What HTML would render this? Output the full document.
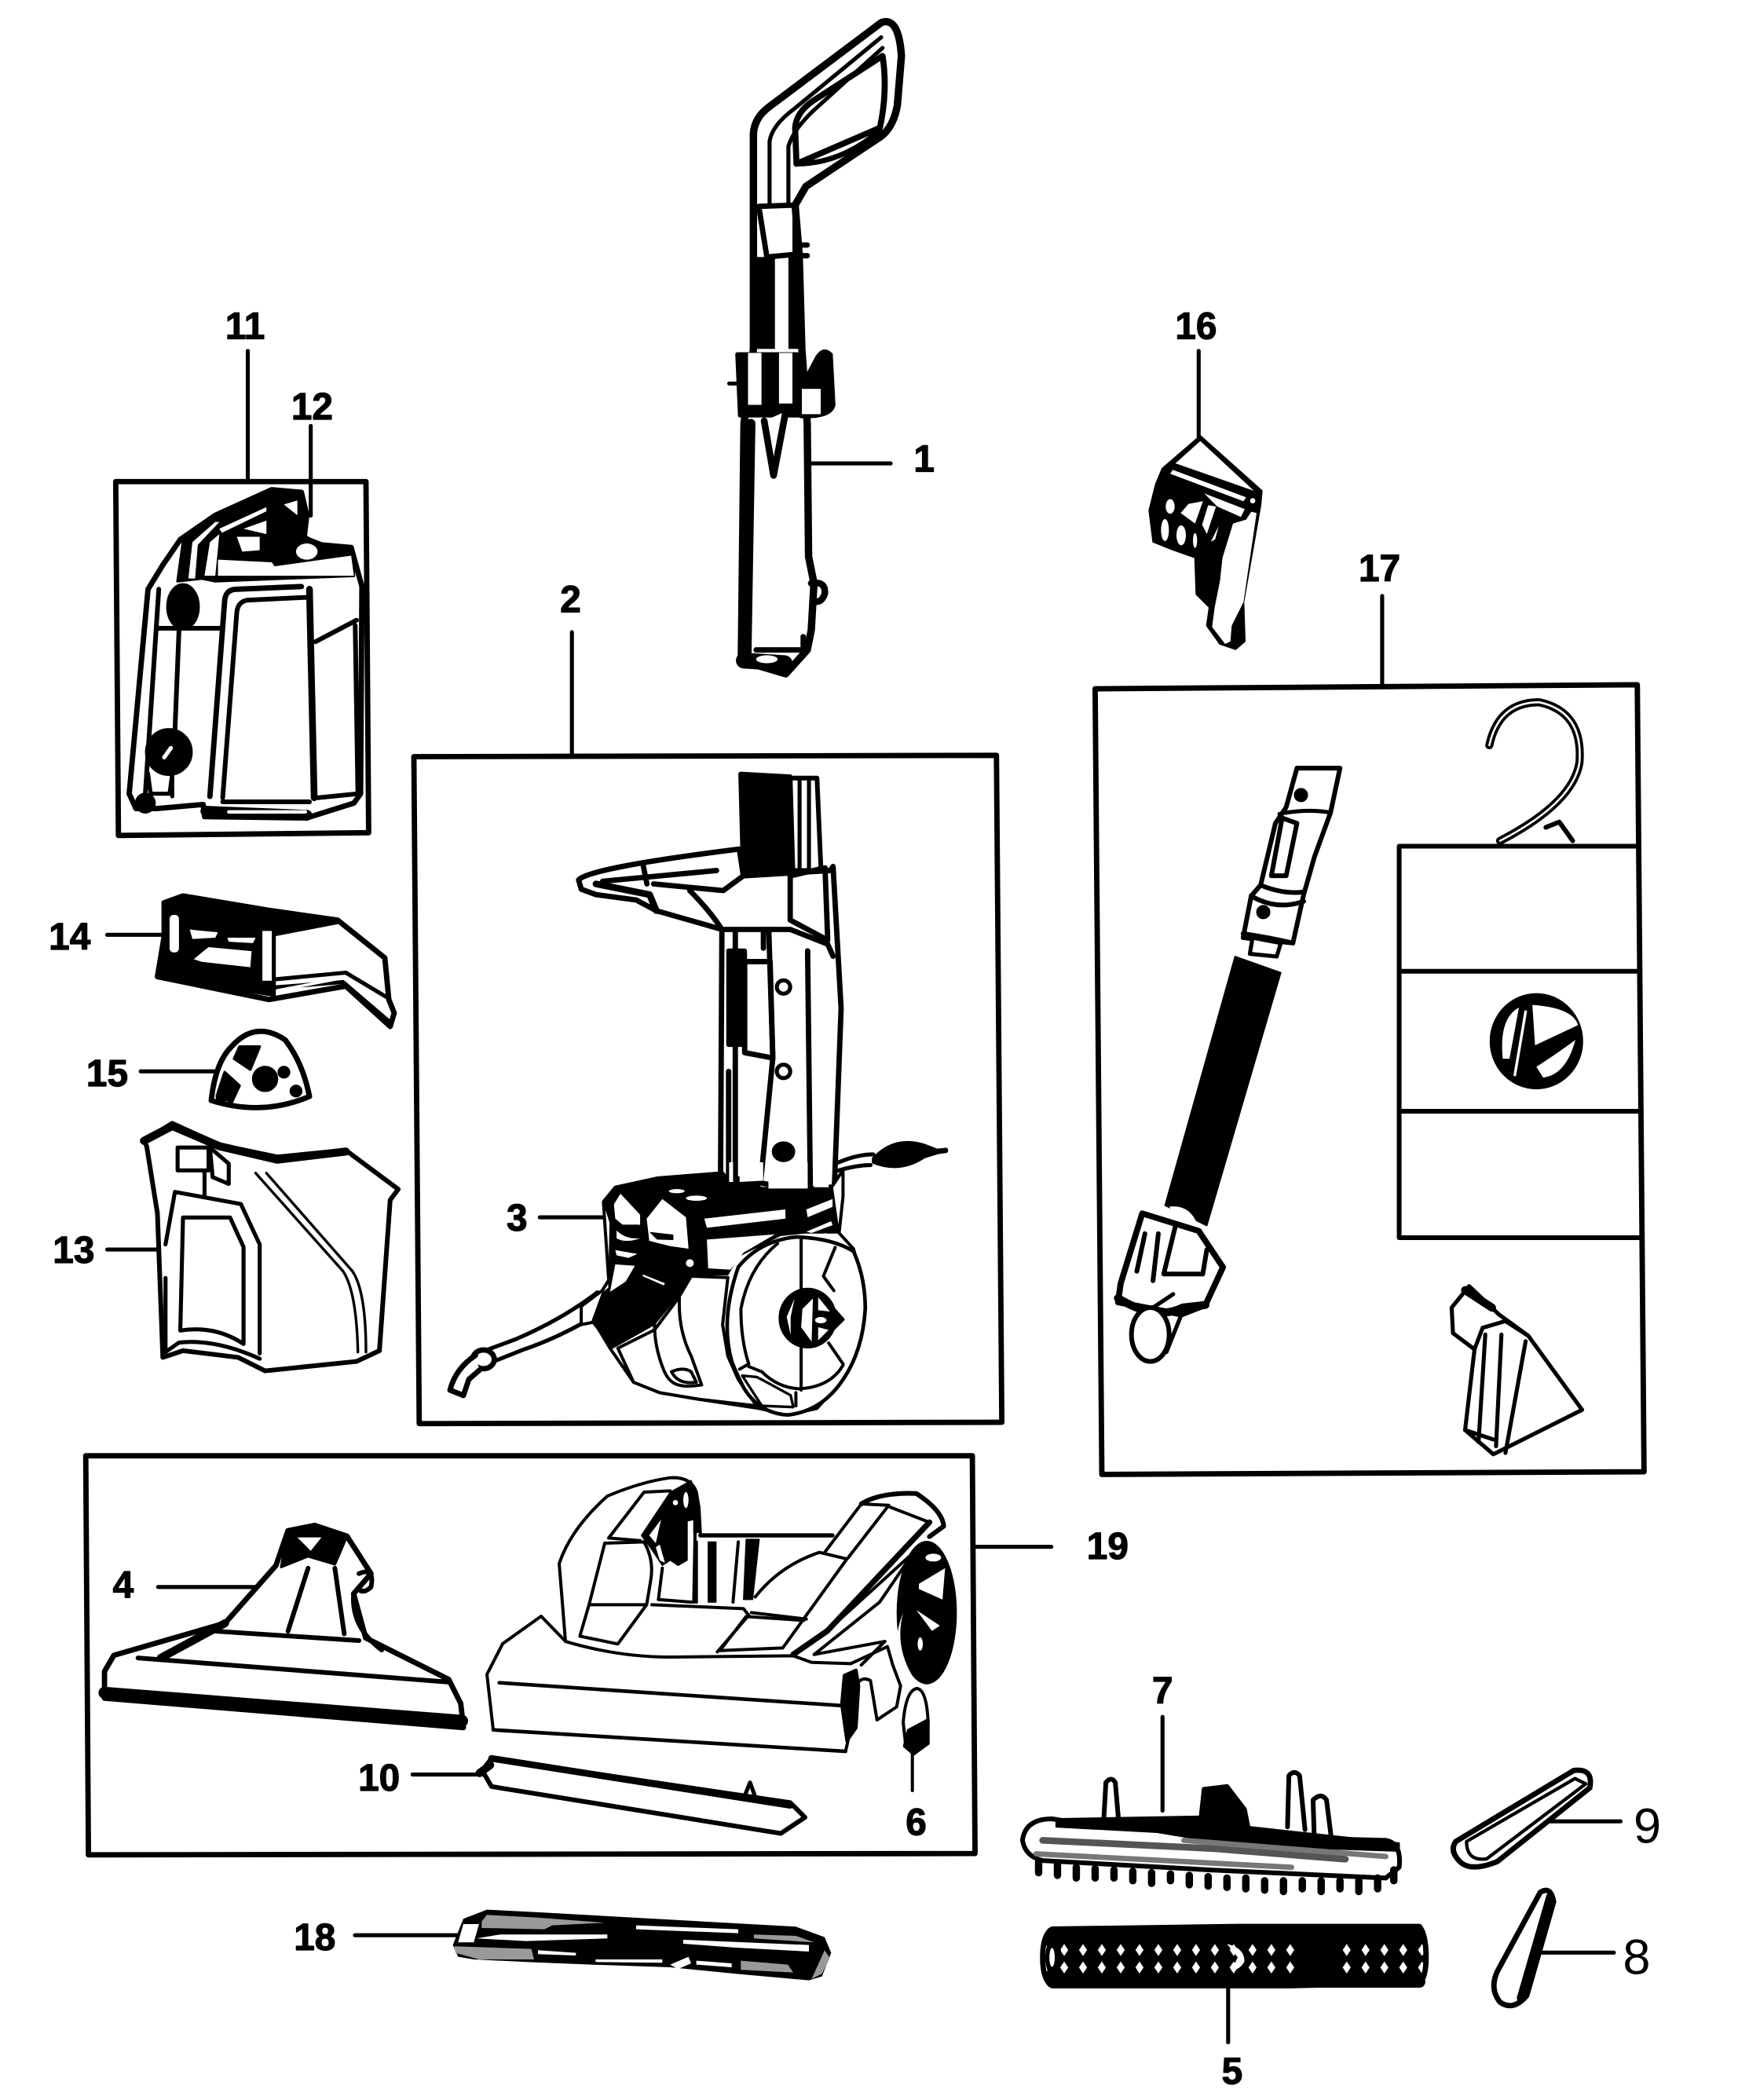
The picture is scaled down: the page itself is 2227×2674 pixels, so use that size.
<!DOCTYPE html>
<html><head><meta charset="utf-8"><style>
html,body{margin:0;padding:0;background:#fff}
svg{display:block}
text{font-family:"Liberation Sans",sans-serif;font-weight:bold;font-size:28px;fill:#000;text-anchor:middle;stroke:#000;stroke-width:.7}
text.r{font-weight:normal;font-size:37px;stroke:none}
</style></head><body>
<svg width="2227" height="2674" viewBox="0 0 1300 1561" xmlns="http://www.w3.org/2000/svg">
<defs>
<pattern id="dots" width="14" height="13" patternUnits="userSpaceOnUse"><rect width="14" height="13" fill="#000"/><path d="M7 2l3 4.500-3 4.500-3-4.500z" fill="#fff"/></pattern>
</defs>
<rect width="1300" height="1561" fill="#fff"/>
<g fill="none" stroke="#000" stroke-width="3.5" stroke-linejoin="round" stroke-linecap="round">

<!-- leader lines -->
<g stroke-width="3" transform="scale(.9955)">
<path d="M603 346H665M185 262V358M232 318V385M427 472V564M895 262V326M1032 445V512M80 698H122M105 800H160M80 933H118M403 909H452M118 1185H198M308 1325H360M728 1155H785M868 1282V1352M265 1445H342M1150 1360H1210M1150 1458H1205M917 1477V1525"/>
</g>

<!-- part 1 -->
<g transform="translate(0,-2) scale(1,.99)">
<path d="M560 102Q561 90 572 82L655 19Q668 14 670 44L667 81Q664 98 654 105L599 142L591 156L594 193L596 264L600 320L601 420L605 440L603 475L600 490L584 508L551 498L553 320L560 264Z" fill="#fff" stroke-width="5.500"/>
<path d="M572 155L572 108Q574 96 590 84L655 30M586 155V112Q590 98 608 82L656 38" stroke-width="3"/>
<path d="M592 125L591 98Q592 85 607 76L656 44Q660 70 654 98Z" stroke-width="4.500"/>
<path d="M592 125Q625 125 654 100" stroke-width="4"/>
<path d="M564 157L591 156L591 193L570 195Z" stroke-width="4"/>
<path d="M560 195H576V264H560ZM586 195H596V264H586Z" fill="#000" stroke="none"/>
<path d="M595 186H600M595 194H600" stroke-width="4"/>
<path d="M548 268H595L602 314H550Z" fill="#000" stroke-width="3"/>
<rect x="556" y="267" width="10" height="39" fill="#fff" stroke="none"/>
<rect x="579" y="267" width="10" height="38" fill="#fff" stroke="none"/>
<path d="M607 270Q612 262 618 268L620 306Q618 316 595 315L595 293Z" fill="#000" stroke-width="2"/>
<rect x="596" y="294" width="14" height="19" fill="#fff" stroke="none"/>
<path d="M542 290H548" stroke-width="3"/>
<path d="M568 318L575 359L584 311" fill="#fff" stroke-width="5"/>
<path d="M558 320L555 498" stroke-width="7"/>
<path d="M562 490H597L597 480" fill="#fff" stroke-width="4"/>
<path d="M553 498L583 500" stroke-width="12"/>
<ellipse cx="570" cy="497" rx="8" ry="3" fill="#fff" stroke="none"/>
<path d="M603 440Q614 438 613 448Q610 456 604 453" stroke-width="5"/>
</g>

<!-- box 2 and column -->
<g transform="scale(.9955)">
<path d="M309 565L744 564L748 1062L313 1063Z" stroke-width="4"/>
<path d="M553 578L590 580L592 650L555 654Z" fill="#000"/>
<path d="M590 581L610 581L613 650L592 650Z" fill="#fff"/>
<path d="M597 581V650M604 581V650" stroke-width="3"/>
<path d="M432 657Q440 648 552 634L555 654L620 650L622 647L628 753L623 886L622 893L538 878L539 694L490 680L475 672L445 668L434 664Z" fill="#fff" stroke-width="4"/>
<path d="M450 658L535 650M480 645L483 660M488 660L540 665L555 654M515 665Q530 680 539 694M590 654L616 648L618 702L590 687Z" stroke-width="4"/>
<path d="M445 660L485 668L490 680" stroke-width="5"/>
<path d="M539 694H590L618 705L622 714M549 694V885M570 694V708" stroke-width="4"/>
<path d="M544 710H556V780H544Z" fill="#000"/>
<path d="M556 718L575 718L577 790L556 786Z" fill="#fff" stroke-width="4"/>
<path d="M574 694L577 790L568 882M603 710L605 885" stroke-width="4"/>
<path d="M544 800V885" stroke-width="4"/>
<circle cx="585" cy="737" r="5" stroke-width="3"/><circle cx="585" cy="800" r="5" stroke-width="3"/>
<ellipse cx="585" cy="860" rx="7" ry="6" fill="#000"/>
<path d="M626 868Q640 862 652 862" stroke-width="3"/><path d="M626 874Q640 870 650 870" stroke-width="3"/>
<path d="M652 865Q668 848 690 855L703 860L690 864Q672 876 652 868Z" fill="#000" stroke-width="2"/>
<path d="M690 861L706 859" stroke-width="4"/>
<path d="M446 965Q420 985 385 1000L358 1010M452 978Q420 998 390 1008L365 1018" stroke-width="3"/>
<ellipse cx="361" cy="1015" rx="8" ry="7" fill="#fff" stroke-width="4"/>
<path d="M355 1012Q340 1022 336 1038L346 1042L350 1030L358 1023" fill="#fff" stroke-width="4"/>
</g>

<!-- base and wheel (zoom coordinates) -->
<g transform="translate(432,864) scale(.1946)" stroke-width="12">
<path d="M85 150L130 95L290 60L540 40L570 80L650 80L690 100L860 100L960 90L1000 30L1000 130L985 270L1040 330L1080 480L1085 560L1060 700L1000 830L900 940L790 965L680 940L450 905L300 880L200 840L110 710L50 610L0 620L0 550L80 490L105 450L90 230Z" fill="#fff"/>
<path d="M85 150L130 95L290 60L540 40L575 85L650 85L700 105L860 105L960 95L965 130L985 270L855 270L760 280L600 360L560 430L420 430L370 510L280 620L120 710L40 610L80 500L105 480L110 230Z" fill="#000" stroke-width="4"/>
<g fill="#fff" stroke="none">
<path d="M150 120L225 200L225 240L160 240L130 215L125 160Z"/>
<path d="M310 140L400 210L410 330L340 320L260 300L250 215Z"/>
<path d="M135 260Q170 295 225 290Q170 310 135 290Z"/>
<path d="M130 335L215 350L180 365L135 355Z"/>
<path d="M130 390L205 395L170 455L110 495Z"/>
<ellipse cx="365" cy="110" rx="30" ry="8"/><ellipse cx="440" cy="137" rx="40" ry="10"/><circle cx="415" cy="385" r="15"/>
<path d="M235 428L320 462L315 470L235 435Z"/>
<path d="M470 215L780 180L780 215L480 250Z"/>
<path d="M860 180L960 140L960 170L865 210Z"/>
<path d="M860 265L955 225L960 240L880 270Z"/>
<path d="M930 270L965 280L930 285Z"/>
<path d="M480 295L740 275L620 345L570 410L485 405Z"/>
<path d="M565 0H580V75H565ZM605 0H695V70L605 75ZM715 0H865V100H715ZM890 0H945V95H890Z"/>
</g>
<path d="M265 268L350 278L350 295L290 293Z" fill="#000" stroke-width="4"/>
<path d="M140 245L220 245" stroke-width="14"/>
<path d="M420 435L560 440L550 530L540 620L560 740L600 830L670 930L450 905L300 880L200 840L140 710L280 640L370 520Z" fill="#fff"/>
<path d="M375 520Q370 640 420 740L460 850Q400 860 370 850Q330 840 310 780Q280 700 280 620"/>
<path d="M345 800Q390 780 420 800L440 840Q370 850 345 800Z"/>
<path d="M575 760Q530 600 600 400Q680 300 820 285Q960 290 1040 340Q1085 440 1085 560Q1075 720 1000 830Q920 950 790 965Q680 960 620 860Q590 800 575 760Z" fill="#fff" stroke-width="14"/>
<path d="M605 790L640 770Q610 680 610 560Q640 400 750 310"/>
<path d="M640 780L690 800Q750 860 830 865Q950 860 1000 775"/>
<path d="M840 295V490M840 700V870M820 880V930"/>
<path d="M970 325L925 435L965 490M945 690L1000 770"/>
<ellipse cx="865" cy="595" rx="105" ry="110" fill="#000"/>
<g fill="#fff" stroke="none">
<path d="M815 520L785 590L800 660L800 590Z"/>
<path d="M885 520L845 560L840 630L880 685Z"/>
<path d="M905 515L950 570L905 565Z"/>
<path d="M905 630L945 640L905 680Z"/>
<ellipse cx="915" cy="603" rx="22" ry="12"/>
</g>
<path d="M960 555L1000 600L960 640" fill="#000"/>
<path d="M615 815L670 820L690 830L800 890L810 935L690 930Z" fill="#fff" stroke-width="10"/>
</g>

<!-- box 11 -->
<path d="M86 358L272 358L274 619L88 621Z" stroke-width="4"/>
<g>
<path d="M96 590L110 438L121 420L134 401L160 383L202 364L224 366L228 383L226 400L239 405L261 407L269 436L268 590L263 597L228 608L152 607L151 598L117 601L101 601Z" fill="#fff" stroke-width="4"/>
<path d="M132 432L136 403L160 383L202 364L224 366L228 383L224 397L240 406L262 408L263 428L160 432L150 430Z" fill="#000" stroke-width="2"/>
<g fill="#fff" stroke="none">
<path d="M140 430L143 403L160 388L163 388L147 405L145 430Z"/>
<path d="M152 428L156 403L163 397L160 428Z"/>
<path d="M163 393L198 377L198 380L165 396Z"/>
<path d="M176 399L193 399L193 409L180 410Z"/>
<path d="M181 393L198 387L198 397Z"/>
<path d="M211 375L221 372L221 383Z"/>
<path d="M162 416L202 418L204 421L261 413L263 428L162 428Z"/>
<ellipse cx="228" cy="410" rx="8" ry="6"/>
<path d="M123 430L128 430L127 458L122 462Z"/>
</g>
<ellipse cx="136" cy="451" rx="12" ry="17" fill="#000" stroke-width="1"/>
<path d="M118 438L108 590M118 467H164M133 469L130 543" stroke-width="3.500"/>
<path d="M167 446L156 592M167 446Q168 438 176 438L224 436" stroke-width="4"/>
<path d="M165.500 593L176 455Q177 446 186 446L228 444" stroke-width="3.500"/>
<path d="M165.500 596H230" stroke-width="3.500"/>
<path d="M230 438L233.500 593" stroke-width="5"/>
<path d="M234.500 477L265 461M264 465L266 590M236 593L266 590" stroke-width="3.500"/>
<circle cx="125.500" cy="559" r="16" fill="#000"/>
<path d="M122 563L127 556" stroke="#fff" stroke-width="3"/>
<path d="M110 575L112 590H126L128 575M128 575V592" stroke-width="3"/>
<circle cx="108" cy="597" r="6" fill="#000"/>
<path d="M153 603L228 606" stroke-width="8"/>
<path d="M170 603.500H227" stroke="#fff" stroke-width="2.500"/>
</g>

<!-- part 14 -->
<g>
<path d="M122 671L136 666L202 677L251 684L286 712L289 743L293 753L290 763L257 733L200 743L117 726L122 696Z" fill="#fff" stroke-width="4"/>
<path d="M122 671L136 666L202 677L251 686L204 695L204 740L117 726L122 696Z" fill="#000" stroke-width="2"/>
<rect x="126" y="680" width="7" height="28" rx="3" fill="#fff" stroke="none"/>
<rect x="195" y="692" width="7" height="37" fill="#fff" stroke="none"/>
<path d="M141 691L162 693L160 697L143 698ZM169 697L190 697L188 701L170 700ZM144 713L155 704L187 707L186 719L150 715Z" fill="#fff" stroke="none"/>
<path d="M204 728L257 723L287 741M204 734L255 730L290 760" stroke-width="3"/>
<path d="M207 736L255 727L288 750" stroke="#fff" stroke-width="2"/>
</g>

<!-- part 15 -->
<g>
<path d="M157 818Q160 790 172 778Q190 758 212 773Q225 790 230 815Q195 830 157 818Z" fill="#fff" stroke-width="4"/>
<path d="M178 778L193 778L186 795L174 787ZM167 797L178 807L172 820L162 812Z" fill="#000" stroke-width="2"/>
<circle cx="197" cy="802" r="8" fill="#000"/><circle cx="211" cy="797" r="3" fill="#000"/><circle cx="165" cy="815" r="3" fill="#000"/><circle cx="220" cy="811" r="3" fill="#000"/>
</g>

<!-- part 13 -->
<g>
<path d="M107 848L128 835L163 851L206 860L257 855L296 884L290 892L282 1004L265 1012L197 1019L177 1009L136 1004L121 1009L117 902L109 852Z" fill="#fff" stroke-width="3.500"/>
<path d="M163 852L206 862L257 856" stroke-width="6"/>
<path d="M132 853H155V870H132ZM156 853L170 865L170 880L158 875Z" fill="#fff" stroke-width="3"/>
<path d="M107 848L128 837L163 852" stroke-width="6"/>
<path d="M152 872V888" stroke-width="3"/>
<path d="M123 950L123 1005M130 886L179 895L193 925V1006M136 905L171 905L181 927V999M130 886L123 925M134 989L136 905M134 989Q160 985 181 999M123 1005L133 998Q160 995 193 1010" stroke-width="3"/>
<path d="M190 872L255 945Q265 960 266 1005M198 872L262 945Q272 960 272 1005" stroke-width="2"/>
</g>

<!-- part 16 (zoom coordinates) -->
<g transform="translate(840.600,315.200) scale(.1946)" stroke-width="6">
<path d="M120 170L265 45L500 255L495 310L430 680L435 830L400 860L340 840L290 770L300 700L250 650L245 510L160 480L85 450L70 330L95 230Z" fill="#000"/>
<g fill="#fff" stroke="none">
<path d="M170 150L265 65L470 255Z"/>
<path d="M160 175L440 280L430 295L150 190Z"/>
<path d="M280 265L435 325L420 355L330 315Z"/>
<ellipse cx="150" cy="315" rx="17" ry="28"/><ellipse cx="130" cy="405" rx="15" ry="42"/><ellipse cx="192" cy="425" rx="18" ry="38"/><ellipse cx="245" cy="445" rx="8" ry="28"/>
<path d="M190 340L220 305L275 295L245 380Z"/>
<path d="M295 310L325 315L290 420L272 385Z"/>
<path d="M305 450L335 390L322 440Z"/>
<path d="M460 335L480 340L430 680L385 770L380 830L360 840L310 775L320 700L340 600L350 510L390 380L440 365Z"/>
<circle cx="465" cy="293" r="10"/>
</g>
</g>

<!-- box 17 -->
<path d="M814 512L1217 509L1222 1094L819 1096Z" stroke-width="4"/>
<g transform="translate(-1,-3)">
<path d="M965 574L997 574L990 607L978 640L970 668L962 704L925 700L931 669L938 661L949 615L957 603Z" fill="#fff" stroke-width="3.500"/>
<circle cx="968" cy="594" r="3.500" fill="#000"/>
<path d="M952 608Q972 604 990 607" stroke-width="3"/>
<path d="M954 611L965 615L957 654L946 654Z" stroke-width="3.500"/>
<path d="M938 661Q955 668 970 666M931 669Q950 680 970 673M925 697Q945 700 962 704" stroke-width="3.500"/>
<circle cx="940" cy="681" r="3.500" fill="#000"/>
<path d="M919 714L953 726L898 914L867 899Z" fill="#000" stroke-width="1"/>
<path d="M932 700L953 704L950 714L930 712Z" fill="#fff" stroke-width="3"/>
<path d="M850 905L892 918L910 945L897 973L879 980L832 971L834 957Z" fill="#fff" stroke-width="4.500"/>
<path d="M870 900Q885 898 891 913Q880 915 870 900Z" fill="#fff" stroke="none"/>
<path d="M852 920L846 948M862 920L858 955M875 913L866 950H895L898 932" stroke-width="3.500"/>
<path d="M832 968Q860 985 880 975L897 973" stroke-width="6"/>
<ellipse cx="856" cy="995" rx="14" ry="20" fill="#fff" stroke-width="3.500"/>
<path d="M858 975L873 965M868 1008L880 978" stroke-width="3"/>
<path d="M1108 557Q1115 525 1145 525Q1178 532 1175 570Q1170 600 1116 628" stroke-width="6"/>
<path d="M1108 557Q1115 525 1145 525Q1178 532 1175 570Q1170 600 1116 628" stroke="#fff" stroke-width="1.500"/>
<path d="M1150 618L1160 614L1170 628" stroke-width="3.500"/>
<ellipse cx="1143" cy="777" rx="33" ry="34" fill="#000"/>
<path d="M1118 790Q1115 760 1130 752L1123 790ZM1140 750Q1170 752 1174 765L1142 780ZM1143 796Q1160 785 1172 776Q1165 802 1148 804Z" fill="#fff" stroke="none"/>
<path d="M1135 755L1127 802" stroke="#fff" stroke-width="2"/>
<path d="M1093 959L1080 975L1081 994L1097 1006L1090 1066L1111 1084L1177 1051L1137 996L1115 980Z" fill="#fff" stroke-width="3"/>
<path d="M1090 962L1110 975" stroke-width="6"/>
<path d="M1097 1006L1103 990L1120 985L1137 996M1105 995L1100 1075M1117 995L1113 1078M1135 1000L1120 1083M1090 1066L1111 1073" stroke-width="3"/>
</g>
<path d="M1040 629H1218M1040 629V920H1220M1040 722H1219M1040 826H1220" stroke-width="3.500"/>

<!-- box 19, part 4, part 10 -->
<g transform="scale(.9955)">
<path d="M64 1087L726 1087L728 1384L66 1385Z" stroke-width="4"/>
<path d="M78 1248L85 1236L168 1212L206 1169L215 1143L235 1139L259 1147L277 1175L264 1190L273 1223L335 1254L344 1272L346 1290L78 1268Z" fill="#fff" stroke-width="4"/>
<path d="M78 1264L345 1285" stroke-width="9"/>
<path d="M103 1238L335 1256M161 1218L268 1225M230 1171L215 1218M250 1171L257 1220M264 1190Q262 1215 285 1232" stroke-width="3.500"/>
<path d="M215 1143L235 1139L259 1147L250 1168L230 1162L210 1170Z" fill="#000" stroke-width="2"/>
<path d="M222 1148L240 1148L232 1158Z" fill="#fff" stroke="none"/>
<path d="M268 1175Q280 1170 277 1185Q272 1190 268 1187" stroke-width="3.500"/>
<path d="M168 1212L120 1238" stroke-width="6"/>
<path d="M360 1322L367 1313L590 1346L601 1357L583 1369L367 1334Z" fill="#fff" stroke-width="3.500"/>
<path d="M367 1313L590 1348" stroke-width="5"/>
<path d="M358 1324L366 1318" stroke-width="6"/>
<path d="M556 1341L560 1331L564 1342" stroke-width="3"/>
</g>

<!-- foot, arms, wheel, part 6 (zoom coordinates) -->
<g transform="translate(420.300,1097.500) scale(.1946)" stroke-width="12">
<path d="M-24 640L-24 333Q20 200 160 75Q290 20 400 5Q480 0 500 60L515 215L1020 225L1130 105Q1200 60 1340 65Q1440 130 1445 190L1000 590L870 690H400L0 630Z" fill="#fff" stroke="none"/>
<path d="M-240 639L-93 534L0 630Q200 690 400 690L870 685L940 710L1090 715L1230 650L1250 720L1280 800L1265 880L1190 930L1165 780Q1130 760 1110 800L1090 960L1070 1050L-276 968L-300 756Z" fill="#fff"/>
<path d="M1065 760L1110 740L1120 800L1110 960L1075 1010L1055 870Z" fill="#000"/>
<path d="M-253 788L1050 875M-276 968L1070 1050" stroke-width="14"/>
<path d="M0 630L-24 333Q20 200 160 75Q290 20 400 5Q480 0 500 60L510 120L515 215"/>
<path d="M165 235L300 60L400 55M165 235L285 245"/>
<path d="M150 255L90 490L305 490M150 255L300 250Q340 320 325 400L310 490L200 640L55 610L90 490"/>
<path d="M290 225L400 60L480 15L505 90L515 210L490 220L490 165L465 170L465 320L430 340L400 320L370 340L330 280L300 240Z" fill="#000" stroke-width="4"/>
<g fill="#fff" stroke="none"><ellipse cx="460" cy="90" rx="10" ry="30"/><circle cx="420" cy="100" r="10"/><path d="M320 225L365 165L345 255ZM345 270L360 260L380 330L360 320Z"/></g>
<path d="M495 215L490 480M370 350L355 470L480 480"/>
<path d="M330 490L680 505L700 530L580 670"/>
<path d="M500 250V480M660 250L640 480"/>
<path d="M545 250H575V480H545ZM690 240H740L715 470H680Z" fill="#000" stroke-width="4"/>
<path d="M515 225H1020" stroke-width="16"/>
<path d="M990 290L1130 105L1235 110L1080 310"/>
<path d="M1130 105Q1200 60 1340 65Q1440 130 1445 190L1390 230" stroke-width="18"/>
<path d="M1235 115L1390 175"/>
<path d="M1390 175L1000 590L870 680" stroke-width="22"/>
<path d="M1075 315L830 655L590 665L690 535L910 550"/>
<path d="M725 460Q820 340 970 290L1075 315M710 520L920 545"/>
<path d="M1000 590L1330 290L1200 480L950 680M950 680L1220 630L1130 720"/>
<path d="M1320 85L1350 85L1420 150L1370 140Z" fill="#fff" stroke="none"/>
<ellipse cx="1380" cy="520" rx="113" ry="272" fill="#000" stroke-width="4"/>
<g fill="#fff" stroke="none">
<ellipse cx="1405" cy="310" rx="30" ry="15"/>
<path d="M1350 410L1450 350L1440 470L1350 430Z"/>
<path d="M1340 510L1430 570L1400 590Z"/>
<ellipse cx="1355" cy="640" rx="10" ry="25"/>
<path d="M1290 520Q1255 650 1330 770Q1290 760 1270 720Q1250 620 1290 520Z"/>
</g>
<path d="M1340 810Q1380 810 1385 940L1380 1020L1330 1050L1300 1030L1290 940Q1300 820 1340 810Z" fill="#fff"/>
<path d="M1310 970L1385 930L1385 1020L1330 1060L1295 1030Z" fill="#000"/>
<path d="M1325 1060V1200"/>
</g>

<!-- part 18 (zoom coordinates) -->
<g transform="translate(332.700,1412.700) scale(.1946)">
<path d="M20 170L60 70L150 35L350 45L1330 100L1440 140L1465 200L1430 290L1380 305L1100 280L850 255L550 245L300 235L100 225L40 215Z" fill="#000" stroke="none"/>
<g stroke="none" fill="#fff">
<path d="M40 160L60 90L120 90L100 160Z"/>
<path d="M110 145L200 130L610 130L610 145L300 155Z"/>
<path d="M900 150L1380 170L1380 195L1100 180L900 165Z"/>
<path d="M345 190L490 200L490 210L345 205Z"/>
<path d="M565 225L820 225L820 238L565 235Z"/>
<path d="M850 245L920 215L930 240L880 262Z"/>
<path d="M950 230L1085 240L1085 255L950 245Z"/>
<path d="M720 95L1110 110L1110 125L720 110Z"/>
</g>
<g stroke="none" fill="#999">
<path d="M130 80L150 55L340 65L600 85L400 95L370 110L130 105Z"/>
<path d="M25 175L320 185L330 225L120 225L30 200Z"/>
<path d="M1120 230L1300 245L1320 275L1120 265Z"/>
<path d="M1440 190L1460 220L1430 280L1390 300Z"/>
<path d="M1170 130L1330 135L1400 160L1170 145Z"/>
</g>
</g>

<!-- part 7 -->
<g>
<path d="M820 1360L822 1325Q826 1320 829 1325L832 1360M957 1358L958 1320Q962 1315 966 1320L970 1360M977 1370L976 1338Q982 1332 986 1338L990 1370" fill="#fff" stroke-width="3.500"/>
<path d="M892 1358L895 1330L912 1328L925 1345L928 1360Z" fill="#000"/>
<path d="M760 1368Q762 1352 782 1352L820 1358L950 1366L1030 1368Q1042 1370 1040 1388L1030 1396L900 1390L775 1383Q762 1380 760 1368Z" fill="#fff" stroke-width="3.500"/>
<path d="M785 1352L895 1350L930 1358L1040 1370L1040 1376L920 1372L860 1362L785 1358Z" fill="#000" stroke-width="1"/>
<path d="M775 1368L900 1374L1000 1382" stroke="#555" stroke-width="5"/>
<path d="M770 1378L960 1388M880 1368L1030 1380" stroke="#777" stroke-width="4"/>
<path d="M772 1384V1392M786 1386V1394M800 1388V1396M814 1389V1396M828 1390V1396M842 1391V1398M856 1392V1400M870 1393V1398M884 1394V1401M898 1395V1402M912 1396V1403M926 1396V1404M940 1398V1405M954 1398V1406M968 1398V1404M982 1398V1406M996 1398V1404M1010 1398V1406M1024 1396V1404M1036 1390V1398" stroke-width="5.500"/>
</g>

<!-- part 5 roller -->
<g>
<path d="M782 1434Q775 1438 775 1455Q775 1472 782 1476L960 1476L1055 1474Q1060 1470 1060 1455Q1060 1438 1055 1432L920 1432Z" fill="url(#dots)" stroke-width="4"/>
<path d="M782 1437H1055M782 1473H1055" stroke-width="9"/>
<ellipse cx="783" cy="1455" rx="6" ry="14" fill="#000" stroke="none"/>
<ellipse cx="782" cy="1455" rx="2" ry="7" fill="#fff" stroke="none"/>
<rect x="966" y="1434" width="26" height="40" fill="#000" stroke="none"/>
<path d="M912 1445Q925 1448 925 1458Q922 1464 915 1465L920 1455Z" fill="#fff" stroke="none"/>
</g>

<g transform="scale(.9955)">
<!-- part 9 -->
<path d="M1087 1375L1175 1322Q1190 1320 1187 1335L1118 1390Q1098 1398 1090 1390Q1082 1382 1087 1375Z" fill="#fff" stroke-width="4"/>
<path d="M1095 1375L1176 1328L1184 1332L1110 1388Q1095 1390 1095 1375Z" stroke-width="2.500"/>
<!-- part 8 -->
<path d="M1150 1413Q1158 1408 1160 1420L1140 1490Q1130 1502 1120 1495Q1112 1485 1118 1472Z" fill="#fff" stroke-width="4"/>
<path d="M1157 1416L1135 1492" stroke-width="5"/>
<!-- labels -->
<g stroke="none">
<text x="690" y="352">1</text>
<text x="426" y="457">2</text>
<text x="386" y="919">3</text>
<text x="92" y="1193">4</text>
<text x="920" y="1556">5</text>
<text x="684" y="1370">6</text>
<text x="868" y="1272">7</text>
<text x="1222" y="1474" class="r">8</text>
<text x="1230" y="1376" class="r">9</text>
<text x="283" y="1337">10</text>
<text x="183" y="253">11</text>
<text x="233" y="313">12</text>
<text x="55" y="943">13</text>
<text x="52" y="709">14</text>
<text x="80" y="811">15</text>
<text x="893" y="253">16</text>
<text x="1030" y="434">17</text>
<text x="235" y="1456">18</text>
<text x="827" y="1164">19</text>
</g>
</g>
</g>
</svg>
</body></html>
